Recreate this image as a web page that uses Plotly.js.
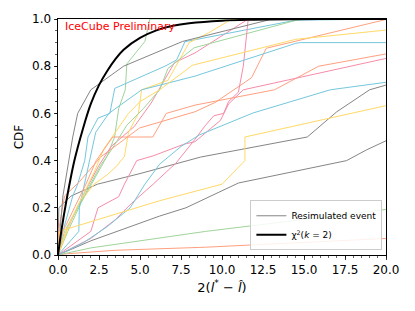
<!DOCTYPE html>
<html><head><meta charset="utf-8">
<script src="https://cdn.plot.ly/plotly-3.0.1.min.js"></script>
<style>html,body{margin:0;padding:0;background:#fff}#chart{width:415px;height:311px}</style>
</head><body><div id="chart"></div>
<script>
// ---- data ----
const gray1X = [0,0.05,0.8,2.4,5,8.7,15.2,17,19,20];
const gray1Y = [0,0.2,0.25,0.3,0.345,0.415,0.5,0.607,0.7,0.72];
const gray2X = [0,2,4,6.2,7.8,11,17.6,18.8,20];
const gray2Y = [0,0.06,0.11,0.165,0.2,0.305,0.4,0.445,0.484];
const gray3X = [0,0.3,0.9,1.2,2.0,4.0,7.6,11.5,12.9,20];
const gray3Y = [0,0.25,0.5,0.6,0.7,0.8,0.905,0.975,0.997,1.0];

const green1X = [0,0.6,1.4,2.2,3.0,3.45,3.7,4.1,4.2,5.3,5.6,20];
const green1Y = [0,0.1,0.22,0.32,0.42,0.5,0.62,0.7,0.81,0.905,1.0,1.0];
const green2X = [0,0.4,1.2,2.0,2.6,3.3,4.2,5.2,6.2,6.7,8.3,14.7,20];
const green2Y = [0,0.1,0.2,0.3,0.38,0.45,0.55,0.62,0.7,0.79,0.878,0.998,1.0];
const green3X = [0,2,9,20];
const green3Y = [0,0.03,0.1,0.193];

const orange1X = [0,0.5,3.5,9,14,20];
const orange1Y = [0,0.005,0.02,0.033,0.05,0.07];
const orange2X = [0,0.05,0.4,1.3,2.6,4.97,8.35,9.6,11.8,12.7,14.5,20];
const orange2Y = [0,0.11,0.25,0.31,0.415,0.538,0.607,0.647,0.751,0.876,0.906,0.998];
const orange3X = [0,0.3,1.0,1.7,2.33,3.34,5.78,6.6,8.35,13.2,15.9,20];
const orange3Y = [0,0.1,0.2,0.3,0.4,0.5,0.5,0.6,0.635,0.70,0.80,0.852];

const pink1X = [0,0.5,1.5,2.5,3.24,4.66,5.68,7.1,8.35,11.6,20];
const pink1Y = [0,0.1,0.25,0.38,0.46,0.545,0.644,0.815,0.856,1.0,1.0];
const pink2X = [0,2,3.5,4.5,5.8,7.2,8.35,9.0,9.5,10.1,10.4,11.0,11.3,11.6,20];
const pink2Y = [0,0.07,0.15,0.22,0.3,0.39,0.49,0.55,0.59,0.6,0.65,0.69,0.8,1.0,1.0];
const pink3X = [0,2.0,2.44,3.7,4.05,4.8,5.8,7.7,8.35,9.2,9.9,10.4,11.3,20];
const pink3Y = [0,0.1,0.2,0.247,0.3,0.4,0.42,0.47,0.48,0.53,0.57,0.64,0.70,0.833];

const blue1X = [0,0.3,0.9,1.2,1.63,1.83,2.44,3.16,3.46,6.52,7.23,7.74,14.5,20];
const blue1Y = [0,0.1,0.25,0.3,0.4,0.5,0.58,0.6,0.706,0.8,0.826,0.904,0.995,1.0];
const blue2X = [0,1.27,1.3,1.6,1.9,2.3,3.1,5.1,8.35,14.5,14.8,20];
const blue2Y = [0,0.1,0.2,0.3,0.4,0.52,0.6,0.7,0.758,0.897,0.9,0.9];
const blue3X = [0,1.5,3,4.4,5.3,6.2,7.5,8.63,11.9,16.6,20];
const blue3Y = [0,0.05,0.12,0.2,0.3,0.385,0.46,0.509,0.602,0.70,0.732];

const yellow1X = [0,0.6,1.3,2.2,3.0,3.55,4.05,4.3,4.9,5.1,6.7,8.0,9.2,10.6,20];
const yellow1Y = [0,0.12,0.22,0.3,0.34,0.375,0.417,0.52,0.6,0.7,0.74,0.9,0.942,1.0,1.0];
const yellow2X = [0,0.8,1.5,2.2,2.8,3.5,4.3,5.0,6.2,8.2,14.5,20];
const yellow2Y = [0,0.15,0.25,0.35,0.45,0.52,0.6,0.65,0.7,0.804,0.914,0.953];
const yellow3X = [0,0.1,1,6.2,10,11.4,11.4,20];
const yellow3Y = [0,0.1,0.12,0.23,0.3,0.4,0.5,0.633];

const chi2X = [0,0.2,0.5,1,1.5,2,2.5,3,3.5,4,5,6,7,8,10,12,14,17,20];
const chi2Y = [0,0.1,0.225,0.4,0.53,0.64,0.72,0.78,0.83,0.87,0.92,0.952,0.971,0.982,0.993,0.997,0.999,1.0,1.0];

const legendNames = ['Resimulated event', 'χ<sup>2</sup>(<i>k</i> = 2)'];
const xTickVals = [0,2.5,5,7.5,10,12.5,15,17.5,20];
const yTickVals = [0,0.2,0.4,0.6,0.8,1.0];

// ---- styling ----
const C = {gray:'#858585', green:'#9fd49a', orange:'#ffa07f', pink:'#f68ca8', blue:'#74c7dd', yellow:'#ffd966'};
const series = [
  [gray1X,gray1Y,C.gray,true],[green1X,green1Y,C.green],[orange1X,orange1Y,C.orange],
  [pink1X,pink1Y,C.pink],[blue1X,blue1Y,C.blue],[yellow1X,yellow1Y,C.yellow],
  [gray2X,gray2Y,C.gray],[green2X,green2Y,C.green],[orange2X,orange2Y,C.orange],
  [pink2X,pink2Y,C.pink],[blue2X,blue2Y,C.blue],[yellow2X,yellow2Y,C.yellow],
  [gray3X,gray3Y,C.gray],[green3X,green3Y,C.green],[orange3X,orange3Y,C.orange],
  [pink3X,pink3Y,C.pink],[blue3X,blue3Y,C.blue],[yellow3X,yellow3Y,C.yellow]
];
const traces = series.map(s => ({
  x: s[0], y: s[1], type:'scatter', mode:'lines',
  line:{color:s[2], width:1},
  name: legendNames[0], showlegend: !!s[3], hoverinfo:'skip'
}));
traces.push({x:chi2X, y:chi2Y, type:'scatter', mode:'lines', line:{color:'#000', width:2, shape:'spline'},
  name: legendNames[1], showlegend:true});

const axisCommon = {
  showline:true, mirror:true, linecolor:'#000', linewidth:1,
  ticks:'outside', ticklen:3.5, tickwidth:0.8, tickcolor:'#000',
  showgrid:false, zeroline:false,
  tickfont:{family:'DejaVu Sans', size:12, color:'#000'},
  tickformat:'.1f'
};
const layout = {
  width:415, height:311,
  margin:{l:58, r:29, t:19, b:56},
  paper_bgcolor:'#fff', plot_bgcolor:'#fff',
  font:{family:'DejaVu Sans', color:'#000'},
  xaxis: Object.assign({}, axisCommon, {
    range:[0,20], tickvals:xTickVals,
    minor:{dtick:0.5, tick0:0, ticks:'outside', ticklen:2, tickwidth:0.6, tickcolor:'#000'},
    title:{text:'2(<i>l</i><sup>*</sup> − <i>l̂</i>)', font:{family:'DejaVu Sans', size:13}, standoff:6}
  }),
  yaxis: Object.assign({}, axisCommon, {
    range:[0,1], tickvals:yTickVals,
    minor:{dtick:0.05, tick0:0, ticks:'outside', ticklen:2, tickwidth:0.6, tickcolor:'#000'},
    title:{text:'CDF', font:{family:'DejaVu Sans', size:12}, standoff:5}
  }),
  legend:{x:0.989, y:0.02, xanchor:'right', yanchor:'bottom',
    bgcolor:'rgba(255,255,255,0.85)', bordercolor:'#cccccc', borderwidth:1,
    font:{family:'DejaVu Sans', size:9, color:'#000'}, itemwidth:30, tracegroupgap:0},
  annotations:[{xref:'paper', yref:'paper', x:0.016, y:0.968, xanchor:'left', yanchor:'middle',
    text:'IceCube Preliminary', showarrow:false,
    font:{family:'DejaVu Sans', size:11, color:'#ff0000'}}]
};
Plotly.newPlot('chart', traces, layout, {displayModeBar:false, staticPlot:true});
</script></body></html>
